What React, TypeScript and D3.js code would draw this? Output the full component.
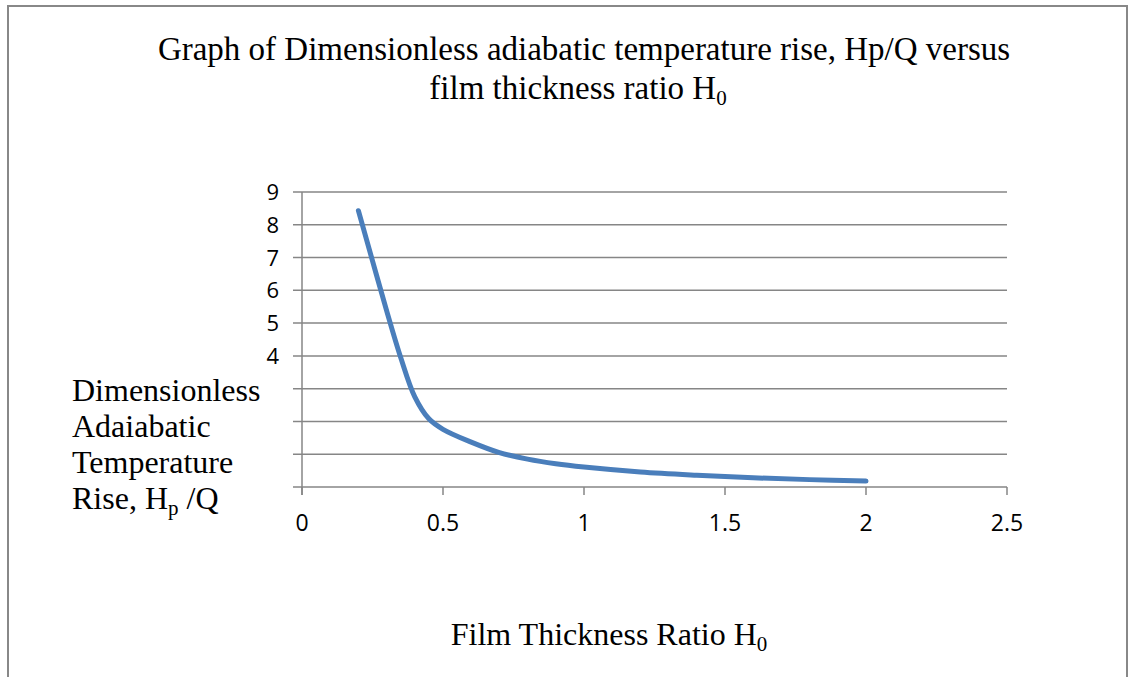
import React, { useEffect, useRef } from 'react'
import * as d3 from 'd3'

// film thickness ratio H0
const filmRatio = [0.2, 0.25, 0.3, 0.35, 0.4, 0.45, 0.5, 0.6, 0.7, 0.8, 0.9, 1.0, 1.2, 1.4, 1.6, 1.8, 2.0]
// dimensionless adiabatic temperature rise Hp/Q
const tempRise = [8.43, 6.9, 5.38, 3.95, 2.75, 2.08, 1.76, 1.37, 1.05, 0.85, 0.71, 0.61, 0.46, 0.36, 0.28, 0.225, 0.18]

const xTicks = [0, 0.5, 1, 1.5, 2, 2.5]
const xTickLabels = ['0', '0.5', '1', '1.5', '2', '2.5']
const yTicks = [0, 1, 2, 3, 4, 5, 6, 7, 8, 9]

const W = 1130
const H = 677
const serif = '"Liberation Serif", "Times New Roman", serif'
const sans = '"Open Sans", "Liberation Sans", sans-serif'

function App() {
  const ref = useRef<SVGSVGElement>(null)

  useEffect(() => {
    const svg = d3.select(ref.current)
    svg.selectAll('*').remove()

    const x = d3.scaleLinear().domain([0, 2.5]).range([302, 1007])
    const y = d3.scaleLinear().domain([0, 9]).range([487, 192])

    // rand om de grafiek
    svg.append('rect')
      .attr('x', 8).attr('y', 6)
      .attr('width', 1119).attr('height', 720)
      .attr('fill', '#fff')
      .attr('stroke', '#888').attr('stroke-width', 2)

    // titel
    const title = svg.append('text')
      .attr('font-family', serif).attr('font-size', 33)
      .attr('text-anchor', 'middle').attr('fill', '#000')
    title.append('tspan').attr('x', 584).attr('y', 60)
      .text('Graph of Dimensionless adiabatic temperature rise, Hp/Q versus')
    title.append('tspan').attr('x', 578).attr('y', 99).text('film thickness ratio H')
    title.append('tspan').attr('font-size', 21).attr('dy', 6).text('0')

    // gridlijnen
    const g = svg.append('g')
    g.selectAll('line.grid')
      .data(yTicks)
      .join('line')
      .attr('class', 'grid')
      .attr('x1', 293).attr('x2', x(2.5))
      .attr('y1', d => y(d)).attr('y2', d => y(d))
      .attr('stroke', '#868686').attr('stroke-width', 1.5)

    // y as
    g.append('line')
      .attr('x1', x(0)).attr('x2', x(0))
      .attr('y1', y(9)).attr('y2', y(0) + 8)
      .attr('stroke', '#868686').attr('stroke-width', 1.5)

    // x as tick marks
    g.selectAll('line.xtick')
      .data(xTicks)
      .join('line')
      .attr('class', 'xtick')
      .attr('x1', d => x(d)).attr('x2', d => x(d))
      .attr('y1', y(0)).attr('y2', y(0) + 8)
      .attr('stroke', '#868686').attr('stroke-width', 1.5)

    g.selectAll('text.xlab')
      .data(xTicks)
      .join('text')
      .attr('class', 'xlab')
      .attr('x', d => x(d)).attr('y', 531)
      .attr('text-anchor', 'middle')
      .attr('font-family', sans).attr('font-size', 23)
      .text((d, i) => xTickLabels[i])

    g.selectAll('text.ylab')
      .data(yTicks)
      .join('text')
      .attr('class', 'ylab')
      .attr('x', 279).attr('y', d => y(d) + 8)
      .attr('text-anchor', 'end')
      .attr('font-family', sans).attr('font-size', 22)
      .text(d => d)

    // de lijn
    const line = d3.line<number>()
      .x((d, i) => x(filmRatio[i]))
      .y(d => y(d))
      .curve(d3.curveCatmullRom.alpha(0.5))

    svg.append('path')
      .datum(tempRise)
      .attr('d', line)
      .attr('fill', 'none')
      .attr('stroke', '#4A7EBB')
      .attr('stroke-width', 5)
      .attr('stroke-linecap', 'round')
      .attr('stroke-linejoin', 'round')

    // y as titel in een wit tekstvak
    svg.append('rect')
      .attr('x', 62).attr('y', 364)
      .attr('width', 226).attr('height', 160)
      .attr('fill', '#fff')
    const yt = svg.append('text')
      .attr('font-family', serif).attr('font-size', 32).attr('fill', '#000')
    yt.append('tspan').attr('x', 72).attr('y', 401).text('Dimensionless')
    yt.append('tspan').attr('x', 72).attr('y', 437).text('Adaiabatic')
    yt.append('tspan').attr('x', 72).attr('y', 473).text('Temperature')
    yt.append('tspan').attr('x', 72).attr('y', 509).text('Rise, H')
    yt.append('tspan').attr('font-size', 21).attr('dy', 6).text('p')
    yt.append('tspan').attr('dy', -6).text(' /Q')

    // x as titel
    const xt = svg.append('text')
      .attr('font-family', serif).attr('font-size', 32).attr('fill', '#000')
      .attr('text-anchor', 'middle')
    xt.append('tspan').attr('x', 609).attr('y', 645).text('Film Thickness Ratio H')
    xt.append('tspan').attr('font-size', 21).attr('dy', 6).text('0')
  }, [])

  return (
    <svg
      ref={ref}
      width={W}
      height={H}
      style={{ position: 'absolute', left: 0, top: 0, display: 'block', background: '#fff' }}
    />
  )
}

export default App
